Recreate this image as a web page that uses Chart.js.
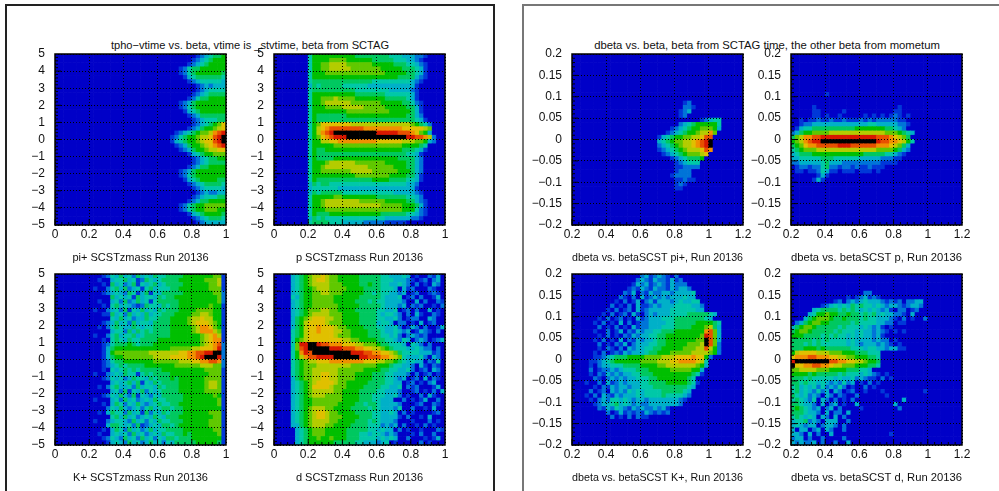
<!DOCTYPE html>
<html>
<head>
<meta charset="utf-8">
<script src="https://cdn.jsdelivr.net/npm/chart.js@4"></script>
<style>
  html, body { margin: 0; padding: 0; background: #fff; overflow: hidden; }
  body { width: 999px; height: 491px; position: relative; font-family: "Liberation Sans", sans-serif; }
  canvas { position: absolute; }
  .pad { position: absolute; top: 4px; height: 500px; border: 2px solid #555; border-bottom: none; box-sizing: border-box; }
  .head { position: absolute; top: 39px; color: #111; white-space: pre; transform: translateX(-50%); }
</style>
</head>
<body>
<div class="pad" style="left:5px;width:490px;border-color:#222"></div>
<div class="pad" style="left:522px;width:490px;border-color:#777"></div>
<div class="head" style="left:250px;font-size:11.1px">tpho−vtime vs. beta, vtime is _stvtime, beta from SCTAG</div>
<div class="head" style="left:767px;font-size:11.3px">dbeta vs. beta, beta from SCTAG time, the other beta from mometum</div>
<script>
// palette index -> colour (0 = empty bin, d = top bin)
const palette = ["#0000c8", "#0038d8", "#0074d8", "#00b0c8", "#00c8a8", "#00c860", "#00bf00",
  "#60c800", "#b4cc00", "#e0c000", "#f09000", "#e85000", "#d81800", "#000000"];

const timeTicks = [-5, -4, -3, -2, -1, 0, 1, 2, 3, 4, 5];
const betaTicks = [0, 0.2, 0.4, 0.6, 0.8, 1];
const dbetaTicks = [-0.2, -0.15, -0.1, -0.05, 0, 0.05, 0.1, 0.15, 0.2];
const betaWideTicks = [0.2, 0.4, 0.6, 0.8, 1, 1.2];

// heatmap rows, top to bottom, 40 bins each, one hex digit per bin
const piTime = [
"0000000001234556","0000000012345666","0000000123456666","0000012455666666","0000012456666665",
"0000001345555554","0000000123444443","0000000001232333","0000000001234444","0000000012345555",
"0000000124556666","0000012356666666","0000012456666666","0000001345666666","0000000123555555",
"0000000012344455","0000000012345679","0000000123566789","0000123456778abc","0001245667889bcd",
"0001345667899bcd","0000123566789abc","0000012356678899","0000000134566777","0000000012345566",
"0000000012345555","0000000123556666","0000012356666666","0000012456666666","0000001345666655",
"0000000123455554","0000000012344443","0000000001232233","0000000012344455","0000000123556666",
"0000012456677777","0000012456677766","0000000134566665","0000000012345554","0000000001233333"];

const pTime = [
"000000004666666666655555555444333221","000000004666677776666665555544433210","000000004667788887777776666655544321",
"000000004667788888777777766666555431","000000004666777777777777776666655431","000000004666666666666666666665555321",
"000000004555555555555554444444443210","000000003545555544444433333333333100","000000004555555555544444444333332100",
"000000004666666666655555554444443100","000000004667778777766666665555543100","000000004667888888777777766666554210",
"000000004666777788888777776666655310","000000004666666667777777777666665310","000000004655555556666666666666655320",
"000000004655555555555555555555555431","0000000046799999998888888888888876542","000000004689abbbbbbbbaaaaaaaaa9999987",
"00000000468abcddddddddddcccccbbba9763","000000004679abcccddddddddddddddccbba82","000000004668899aaaaaaaaa99999988877632",
"000000004666667777777777777777666654","000000004655666666666666666666555431","000000004655555555555555555555544310",
"000000004655556666666666666665555320","000000004666788888877777776666655320","000000004667888888888877777766655320",
"000000004667777777888887777776665320","000000004666666666677777777666655310","000000004655555555555556666555544310",
"000000003545544444444444444444433200","000000003444444333333333333333333100","000000003545555544444444444433333210",
"000000004666667766666666555555544320","000000004667888888887777776666655321","000000004667888888888888877777666531",
"000000004666777777777777777777666421","000000004655566666666666655555544321","000000003545444444444444443333332210",
"000000004555544433333222221111100000"];

const kTime = [
"0012435342534354455556666666771","0100344534125434555566666677781","0010534235143453455556666667781",
"1002453523414534445566666667771","0012343254135143555556666666772","0000534341534435455666666666672",
"0100342523534145555566666666672","0010453432125443545566666667661","1002342514353435455566667777661",
"0011534253435344555666677887661","0000435342335445556666788988661","0012353425344355556666789998761",
"0102454335434455556666678aa9761","0000344253545455556666678aaa871","1002453445345555556666666789a81",
"0010454354455556666666666789aa1","0012455565455566666666666789ab2","0013566666666666667777788999ac2",
"0013677777777888888899aabbccdd2","0013566777777788889999aabcdddc2","0012455666666677777788899aabba2",
"0012345455556666666777777888772","0010434545455555666666666677771","1002343544145455556666666667771",
"0012434235443545556566666677771","0000343453514354555566666678871","0102453342534435455566666678871",
"0000342514352434555566666677771","0012435325143243555556666666761","1000342534234354455556666666671",
"0010354243532345445566666666671","0002435323424534554556666666661","0103544253415243545556666667771",
"0000453534234354355566666666771","1002344325342435445556666667771","0003554342512343554566666667771",
"0010354253423534455556666666771","0100343425342343544556566666671","0012432534253424355455566666661",
"0001343253423534243555556666651"];

const dTime = [
"0000345678898776666655555443334301002130","0000345678998776666655555444333210120230","0000345678888777666655655443343202010320",
"0000345667888777766665555444303120002100","0000345667788777666665545443323012001210","0000435667777766666655555433340120200130",
"0000345667777766666555454433332003020021","0000345667777776666655555433323021200102","0000345677788776666555554433401202003010",
"0000345678888777666655554344320203100210","0000356789998877666655554433420122003200","0000356899998777666655553443022010301200",
"0000356899a99987766665554433420132020013","0000456899a99988776666555433432301321020","0000456899999987776666555443420232120000",
"0000467899999999887766665544324302320123","000047ccddcbbaaa999887776554443043202000","000047bcdddddcccbbbaa9988765444334322020",
"000046acbdddddddddcccbbaa998754444333120","0000468abbccccddddddccbbbaa9874333420320","0000456788999aaaaaaaa9998877654343302140",
"0000456777888888887777776665443320310210","0000456778888887777776666554433420120320","0000456778899887777666655544333202012010",
"0000356778899887777666655544323012030210","0000345678999987766666555544330120102300","0000345679999877766665555443340212000130",
"0000345678888877666655554433320012010203","0000345678887777666655544433420100203100","0000345667777777666655544333002010130020",
"0000345667777776666554554333320001200210","0000345678887766665555454333240020010300","0000345678998776666555544334302010000120",
"0000345678998777666655544333310200103000","0000345678888776666555454333200010002010","0000335678887766665555444232302001020100",
"0000034567776666655555443433020100100021","0000034567776666655544344323200010200200","0000034566766766655544443434300200010130",
"0000034566666655555443332340100000201000"];

const piBeta = [
"","","","","","","","","","","",
"00000000000000000000000000120","00000000000000000000000000221","00000000000000000000000001230","00000000000000000000000001200",
"00000000000000000000000000000012344","00000000000000000000000002345666664","00000000000000000000000123456677763",
"00000000000000000000001234566788a7","0000000000000000000013456677889bb","00000000000000000000345677889abcd",
"00000000000000000000234567889abcd","0000000000000000000012345678889ba","000000000000000000000123456777890",
"0000000000000000000000012345556","000000000000000000000000123444","000000000000000000000000112222",
"00000000000000000000000012220","00000000000000000000000122220","000000000000000000000000112110",
"00000000000000000000000012100","00000000000000000000000011000"];

const pBeta = [
"","","","","","","","","","000000001","",
"","00000100000000000000000001","00000110000010000000000011","0000011010010000010101012101",
"0010112112112111212122222110","0012233333333333334433333221","013445555555555666666655432",
"23566777788888888888887776543","578aabbcccccccccccccbbba9875","678abccdddddddddddddcbbaa9864",
"5679aabbbbbcccbbbbbbaaa98753","4567778888888888888877776532","3455566666666666655555443210",
"3344444555444444333332221100","2233333453332222222221111","0122122452212212112111",
"0110112431101110111010","000000131","00000131"];

const kBeta = [
"0000000000000000231232102","00000000000000023213221312","000000000000001323123213222",
"0000000000000121321322132332","00000000000021302132233233334","00000000000210203123232333433",
"000000000010201302313332343344","0000000002010203112323334444332","0000000010201203123333344444433",
"0000000102012031023233344445555543","000000102012010312333444555555543","00000102010302012233334455555666654",
"00000020102010312233344455556667853","0000010020130213233445556666666ab73","0000001020102132334455666666667cb73",
"0000010201030213233455666666677db73","0000002010213023334455666667778db72","0000001021020323344556666677788b862",
"00000102012132333455666777778888762","000001123455566667777888999 9a9962","0000112345666666777788899aaaa984",
"00001023344455556666778888888763","0000201223234445556666677777663","0000102132323344555666666666541",
"00000210232323344455666666654","000100203123233344555566666541","00000102132332334445555555543",
"0000201203232434344445555543","0001020321323334344445444432","000010232443432332333333321",
"00000123345343232233333332","00000021324321323223231","00000000201312121321212","000000000201020211"];

const dBeta = [
"","","","","0000000000000000022","000000000000010123121",
"0000000000120232343332121202233","00000001234343545443432332123320","000003455554545434343231022012",
"00003466766556554545343322103","00035677765565554544333210201002","023567766555554544443322011",
"3567765555545444343231010","567765555545444343323210101","6665555454544343433231",
"5555545454444343333232201","55545454444443432333232101","555666565555554443443323311",
"689999888777666555444","9aaabbaaa998877666554","cddddddddbbaa99887665",
"d99aabbaa988777666554","7788887776666555443","66665655555454443432101",
"555454444434334232110201","554544343232423010201","4534342423242010020100",
"45343242303201200100010000000001","543423203202100200000010","454324032020102000000000003",
"5543320302301003000000003","56543230230200001000000002","555433203022030","454343032030200",
"34452320333002","3432330233202","3033023032002","332030200300000000000001","2330200200002","32322302002003"];

const binCount = 40;

// bars starting exactly on 0 leave half a grid line open, so keep the edge just off it
const offZero = (v, side) => (Math.abs(v) < 1e-9 ? side * 1e-6 : v);

// floating bars, one per bin, going through the chart's own linear scales
function buildCells(rows, xMin, xMax, yMin, yMax, alignRight) {
  const dx = (xMax - xMin) / binCount, dy = (yMax - yMin) / binCount;
  const cells = [], colors = [];
  for (let r = 0; r < binCount; r++) {
    let row = (rows[r] || "").replace(/ /g, "");
    row = alignRight ? row.padStart(binCount, "0") : row.padEnd(binCount, "0");
    for (let c = 0; c < binCount; c++) {
      const top = yMax - r * dy;
      cells.push({ x: xMin + (c + 0.5) * dx, y: [offZero(top - dy, 1), offZero(top, -1)] });
      colors.push(palette[parseInt(row[c], 16) || 0]);
    }
  }
  return { cells, colors };
}

// ROOT style frame and inward ticks
const framePlugin = {
  id: "frame",
  afterDraw(chart) {
    const { ctx, chartArea: a, scales } = chart;
    ctx.save();
    ctx.strokeStyle = "#000";
    ctx.lineWidth = 1;
    const inner = (scale, draw) => {
      const t = scale.ticks.map(k => k.value);
      const step = (t[1] - t[0]) / 5;
      for (let i = 0; i < t.length - 1; i++) {
        for (let k = 0; k < 5; k++) draw(scale.getPixelForValue(t[i] + k * step), k === 0 ? 6 : 3);
      }
    };
    ctx.beginPath();
    inner(scales.y, (p, len) => { ctx.moveTo(a.left, p); ctx.lineTo(a.left + len, p); });
    inner(scales.x, (p, len) => { ctx.moveTo(p, a.bottom); ctx.lineTo(p, a.bottom - len); });
    ctx.stroke();
    ctx.lineWidth = 1.5;
    ctx.strokeRect(a.left, a.top, a.right - a.left, a.bottom - a.top);
    ctx.restore();
  }
};

const tickText = v => String(v).replace("-", "\u2212");

// drop the label overhang the scales ask for, the plot box is fixed
function fixBox(scale, prop, size) {
  scale[prop] = size;
  scale.paddingTop = scale.paddingBottom = scale.paddingLeft = scale.paddingRight = 0;
}

function makePanel(opts) {
  const leftPad = 48, topPad = 8, rightPad = 24, bottomPad = 40, side = 171;
  const canvas = document.createElement("canvas");
  canvas.width = leftPad + side + rightPad;
  canvas.height = topPad + side + bottomPad;
  canvas.style.left = (opts.left - leftPad) + "px";
  canvas.style.top = (opts.top - topPad + 1) + "px";
  document.body.appendChild(canvas);
  const { cells, colors } = buildCells(opts.rows, opts.xTicks[0], opts.xTicks[opts.xTicks.length - 1],
    opts.yTicks[0], opts.yTicks[opts.yTicks.length - 1], opts.alignRight);
  const tickFont = { family: "Liberation Sans", size: 12 };
  const gridLine = { display: false, dash: [1, 2] };
  new Chart(canvas, {
    type: "bar",
    data: { datasets: [{ data: cells, backgroundColor: colors, barPercentage: 1, categoryPercentage: 1, borderWidth: 0 }] },
    options: {
      responsive: false,
      animation: false,
      events: [],
      layout: { autoPadding: false, padding: { top: topPad, right: rightPad } },
      plugins: { legend: { display: false }, tooltip: { enabled: false } },
      scales: {
        x: {
          type: "linear",
          offset: false,
          min: opts.xTicks[0],
          max: opts.xTicks[opts.xTicks.length - 1],
          afterBuildTicks: s => { s.ticks = opts.xTicks.map(v => ({ value: v })); },
          afterFit: s => fixBox(s, "height", bottomPad),
          grid: { z: 1, offset: false, color: "#000", lineWidth: 1, drawTicks: false },
          border: gridLine,
          ticks: { callback: tickText, color: "#111", font: tickFont, padding: 2, maxRotation: 0, autoSkip: false },
          title: { display: true, text: opts.caption, color: "#111", font: { family: "Liberation Sans", size: opts.captionSize }, padding: { top: 13, bottom: 0 } }
        },
        y: {
          type: "linear",
          min: opts.yTicks[0],
          max: opts.yTicks[opts.yTicks.length - 1],
          afterBuildTicks: s => { s.ticks = opts.yTicks.map(v => ({ value: v })); },
          afterFit: s => fixBox(s, "width", leftPad),
          grid: { z: 1, color: "#000", lineWidth: 1, drawTicks: false },
          border: gridLine,
          ticks: { callback: tickText, color: "#111", font: tickFont, padding: 10, autoSkip: false }
        }
      }
    },
    plugins: [framePlugin]
  });
}

makePanel({ left: 55, top: 53, rows: piTime, xTicks: betaTicks, yTicks: timeTicks, alignRight: true, captionSize: 11, caption: "pi+ SCSTzmass Run 20136" });
makePanel({ left: 274, top: 53, rows: pTime, xTicks: betaTicks, yTicks: timeTicks, captionSize: 11, caption: "p SCSTzmass Run 20136" });
makePanel({ left: 55, top: 273, rows: kTime, xTicks: betaTicks, yTicks: timeTicks, alignRight: true, captionSize: 11, caption: "K+ SCSTzmass Run 20136" });
makePanel({ left: 274, top: 273, rows: dTime, xTicks: betaTicks, yTicks: timeTicks, captionSize: 11, caption: "d SCSTzmass Run 20136" });
makePanel({ left: 572, top: 53, rows: piBeta, xTicks: betaWideTicks, yTicks: dbetaTicks, captionSize: 11.4, caption: "dbeta vs. betaSCST pi+, Run 20136" });
makePanel({ left: 791, top: 53, rows: pBeta, xTicks: betaWideTicks, yTicks: dbetaTicks, captionSize: 11.4, caption: "dbeta vs. betaSCST p, Run 20136" });
makePanel({ left: 572, top: 273, rows: kBeta, xTicks: betaWideTicks, yTicks: dbetaTicks, captionSize: 11.4, caption: "dbeta vs. betaSCST K+, Run 20136" });
makePanel({ left: 791, top: 273, rows: dBeta, xTicks: betaWideTicks, yTicks: dbetaTicks, captionSize: 11.4, caption: "dbeta vs. betaSCST d, Run 20136" });
</script>
</body>
</html>
